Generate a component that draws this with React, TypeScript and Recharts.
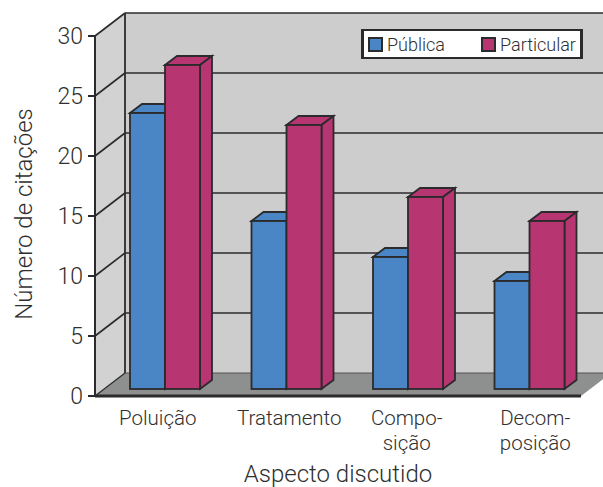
import React from 'react';
import { BarChart, Bar, XAxis, YAxis, Legend } from 'recharts';

const categories = ['Poluição', 'Tratamento', 'Compo-\nsição', 'Decom-\nposição'];
const publica = [23, 14, 11, 9];
const particular = [27, 22, 16, 14];
const yTicks = [0, 5, 10, 15, 20, 25, 30];
// hand-set label offsets per category, the group labels are not centred on the bands
const labelNudge = [2, 12, 8, 15];

const data = categories.map((name, i) => ({ name, publica: publica[i], particular: particular[i] }));

const WIDTH = 603;
const HEIGHT = 487;
const PLOT_LEFT = 95;
const PLOT_RIGHT = 581;
const PLOT_TOP = 36;
const PLOT_BOTTOM = 396;
const MAX_VALUE = 30;

// depth of the box behind the front plane, and of the plane the bars stand on
const WALL_DX = 30;
const WALL_DY = -23;
const BAR_DX = 9;
const BAR_DY = -7;
const SIDE_DX = 12;
const SIDE_DY = -9;

const INK = '#2b2a2c';
const FONT = 'Roboto, "Liberation Sans", sans-serif';
const TEXT = '#2f2f2f';

const yOf = (v: number) => PLOT_BOTTOM - (v / MAX_VALUE) * (PLOT_BOTTOM - PLOT_TOP);

const pts = (list: number[][]) => list.map((p) => p.join(',')).join(' ');

// left wall, back wall, floor and the grid lines that run across them
const Walls = () => {
  const bx = PLOT_LEFT + WALL_DX;
  const rx = PLOT_RIGHT + WALL_DX;
  const floorY = PLOT_BOTTOM + WALL_DY;
  return (
    <g>
      <polygon points={pts([[PLOT_LEFT, PLOT_TOP], [bx, PLOT_TOP + WALL_DY], [bx, floorY], [PLOT_LEFT, PLOT_BOTTOM]])} fill="#d2d2d2" />
      <rect x={bx} y={PLOT_TOP + WALL_DY} width={rx - bx} height={PLOT_BOTTOM - PLOT_TOP} fill="#cdcdcd" />
      <polygon points={pts([[PLOT_LEFT, PLOT_BOTTOM], [bx, floorY], [rx, floorY], [PLOT_RIGHT, PLOT_BOTTOM]])} fill="#8e8f8f" />
      {yTicks.filter((v) => v > 0).map((v) => (
        <g key={v} stroke={INK} strokeWidth={1.6} fill="none">
          <line x1={PLOT_LEFT} y1={yOf(v)} x2={bx} y2={yOf(v) + WALL_DY} />
          <line x1={bx} y1={yOf(v) + WALL_DY} x2={rx} y2={yOf(v) + WALL_DY} />
        </g>
      ))}
      <line x1={PLOT_LEFT} y1={PLOT_BOTTOM} x2={bx} y2={floorY} stroke={INK} strokeWidth={1.2} />
      <line x1={bx} y1={floorY} x2={rx} y2={floorY} stroke="#555" strokeWidth={1.2} />
      <line x1={bx} y1={PLOT_TOP + WALL_DY} x2={bx} y2={floorY} stroke={INK} strokeWidth={1.8} />
    </g>
  );
};

const Bar3D = (props: any) => {
  const { x, y, width, height, fill } = props;
  const l = x + BAR_DX;
  const r = l + width;
  const t = y + BAR_DY;
  const b = t + height;
  return (
    <g fill={fill} stroke={INK} strokeWidth={1.8} strokeLinejoin="miter">
      <polygon points={pts([[l, t], [l + SIDE_DX, t + SIDE_DY], [r + SIDE_DX, t + SIDE_DY], [r, t]])} />
      <polygon points={pts([[r, t], [r + SIDE_DX, t + SIDE_DY], [r + SIDE_DX, b + SIDE_DY], [r, b]])} />
      <rect x={l} y={t} width={width} height={height} />
    </g>
  );
};

const CategoryTick = (props: any) => {
  const { x, y, payload, index } = props;
  const lines = String(payload.value).split('\n');
  return (
    <text x={x + labelNudge[index]} y={y} textAnchor="middle" fontFamily={FONT} fontWeight={300} fontSize={20.5} fill={TEXT}>
      {lines.map((line, i) => (
        <tspan key={line} x={x + labelNudge[index]} y={y + 21 + i * 25}>{line}</tspan>
      ))}
    </text>
  );
};

const LegendBox = (props: any) => (
  <div
    style={{
      display: 'flex',
      boxSizing: 'border-box',
      width: 222,
      height: 30,
      background: '#fff',
      border: `2px solid ${INK}`,
      borderRightWidth: 3,
      borderLeftWidth: 3,
      fontFamily: FONT,
      fontWeight: 300,
      fontSize: 18,
      color: TEXT,
      alignItems: 'center',
    }}
  >
    {(props.payload || []).map((item: any, i: number) => (
      <div key={item.value} style={{ display: 'flex', alignItems: 'center', position: 'absolute', left: i === 0 ? 7 : 120 }}>
        <span style={{ width: 11, height: 11, border: `2px solid ${INK}`, background: item.color, marginRight: 4 }} />
        <span>{item.value}</span>
      </div>
    ))}
  </div>
);

export default function App() {
  return (
    <div style={{ position: 'absolute', left: 0, top: 0, width: WIDTH, height: HEIGHT, background: '#fff' }}>
      <BarChart
        width={WIDTH}
        height={HEIGHT}
        data={data}
        margin={{ top: PLOT_TOP, right: WIDTH - PLOT_RIGHT, bottom: 0, left: 0 }}
        barGap={0}
        barSize={35}
      >
        <Walls />
        <XAxis
          dataKey="name"
          height={HEIGHT - PLOT_BOTTOM}
          interval={0}
          tickLine={false}
          tick={<CategoryTick />}
          axisLine={{ stroke: INK, strokeWidth: 3 }}
          label={{ value: 'Aspecto discutido', position: 'insideBottom', offset: 5, style: { fontFamily: FONT, fontWeight: 300, fontSize: 24, fill: TEXT } }}
        />
        <YAxis
          width={PLOT_LEFT}
          domain={[0, MAX_VALUE]}
          ticks={yTicks}
          tickSize={7}
          tickMargin={5}
          tick={{ fontFamily: FONT, fontWeight: 300, fontSize: 23, fill: TEXT }}
          axisLine={{ stroke: INK, strokeWidth: 2 }}
          tickLine={{ stroke: INK, strokeWidth: 2 }}
          label={{ value: 'Número de citações', angle: -90, position: 'insideLeft', offset: 23, dy: -2, style: { textAnchor: 'middle', fontFamily: FONT, fontWeight: 300, fontSize: 24, fill: TEXT } }}
        />
        <Legend
          layout="horizontal"
          verticalAlign="middle"
          itemSorter={null}
          content={<LegendBox />}
          wrapperStyle={{ position: 'absolute', left: 361, top: 29, width: 222, height: 30, bottom: 'auto', right: 'auto' }}
        />
        <Bar dataKey="publica" name="Pública" fill="#4a86c5" shape={<Bar3D />} isAnimationActive={false} />
        <Bar dataKey="particular" name="Particular" fill="#b73672" shape={<Bar3D />} isAnimationActive={false} />
      </BarChart>
    </div>
  );
}
